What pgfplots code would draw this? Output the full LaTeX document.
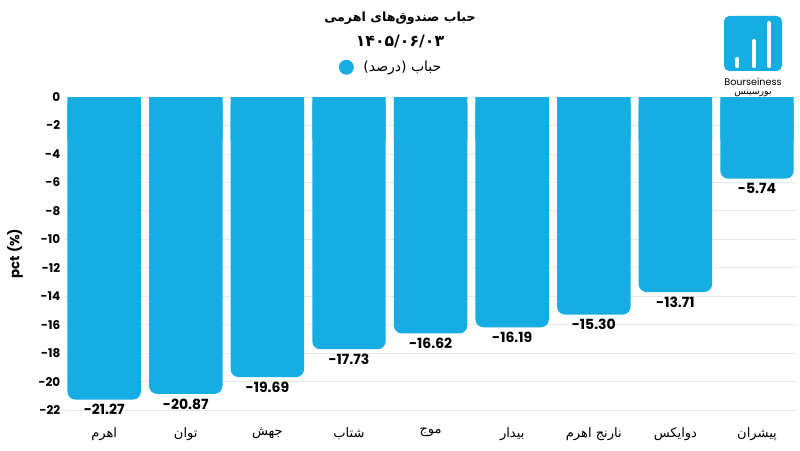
\documentclass[border=0pt]{standalone}
\usepackage{fontspec}
\setmainfont{Poppins}
\newfontfamily\arabicfont[Script=Arabic]{DejaVu Sans}
\TeXXeTstate=1
\usepackage{pgfplots}
\pgfplotsset{compat=1.18}
\definecolor{barblue}{HTML}{16ADE2}
\begin{document}
\begin{tikzpicture}
\path[fill=white] (0pt,0pt) rectangle (600pt,337.5pt);
\begin{axis}[
  at={(48.75pt,30pt)}, anchor=south west,
  scale only axis, width=549pt, height=234.75pt,
  xmin=-0.48, xmax=8.49, ymin=-22, ymax=0,
  axis line style={draw=none},
  major tick length=0pt,
  ymajorgrids, grid style={gray!18, line width=0.6pt},
  xtick={0,...,8},
  xticklabels={{\beginR اهرم\endR},{\beginR توان\endR},{\beginR جهش\endR},{\beginR شتاب\endR},{\beginR موج\endR},{\beginR بیدار\endR},{\beginR نارنج اهرم\endR},{\beginR دوایکس\endR},{\beginR پیشران\endR}},
  x tick label style={font=\arabicfont\fontsize{9.8}{11}\selectfont, yshift=-10pt},
  ytick={-22,-20,...,0},
  y tick label style={font=\bfseries\small},
  /pgf/number format/assume math mode=true,
  ylabel={pct (\%)}, ylabel style={font=\bfseries, yshift=5pt},
  clip=false,
  legend style={at={(0.446,1.095)}, anchor=center, draw=none, fill=none, font=\arabicfont\fontsize{10.5}{12}\selectfont},
  legend image code/.code={\fill[barblue] (0cm,0) circle (5.6pt); \path (0.38cm,0);},
]
\addplot[ybar, bar width=0.9, fill=barblue, draw=none, forget plot]
  coordinates {(0,-3) (1,-3) (2,-3) (3,-3) (4,-3) (5,-3) (6,-3) (7,-3) (8,-3)};
\addplot[ybar, bar width=0.9, fill=barblue, draw=none, rounded corners=6pt,
  nodes near coords={\pgfmathprintnumber[fixed,fixed zerofill,precision=2]{\pgfplotspointmeta}},
  every node near coord/.append style={font=\bfseries\fontsize{10.5}{12}\selectfont, text=black, anchor=north, rounded corners=0pt}]
  coordinates {(0,-21.27) (1,-20.87) (2,-19.69) (3,-17.73) (4,-16.62) (5,-16.19) (6,-15.30) (7,-13.71) (8,-5.74)};
\addlegendentry{\beginR حباب (درصد)\endR}
\end{axis}
\node[font=\arabicfont\bfseries\fontsize{9.5}{11}\selectfont] at (300pt,324pt) {\beginR حباب صندوق‌های اهرمی\endR};
\node[font=\arabicfont\bfseries\fontsize{11.8}{13}\selectfont] at (300pt,306.75pt) {۱۴۰۵/۰۶/۰۳};
\fill[barblue, rounded corners=4pt] (543pt,284.25pt) rectangle (586.5pt,325.5pt);
\draw[white, line width=3pt, line cap=round] (553.1pt,288pt) -- (553.1pt,293.25pt);
\draw[white, line width=3pt, line cap=round] (565.5pt,288pt) -- (565.5pt,306.75pt);
\draw[white, line width=3pt, line cap=round] (576.75pt,288pt) -- (576.75pt,320.25pt);
\node[font=\fontsize{7.2}{8}\selectfont] at (564.75pt,276pt) {Bourseiness};
\node[font=\arabicfont\fontsize{7}{8}\selectfont] at (564.75pt,267.75pt) {\beginR بورسینس\endR};
\end{tikzpicture}
\end{document}
